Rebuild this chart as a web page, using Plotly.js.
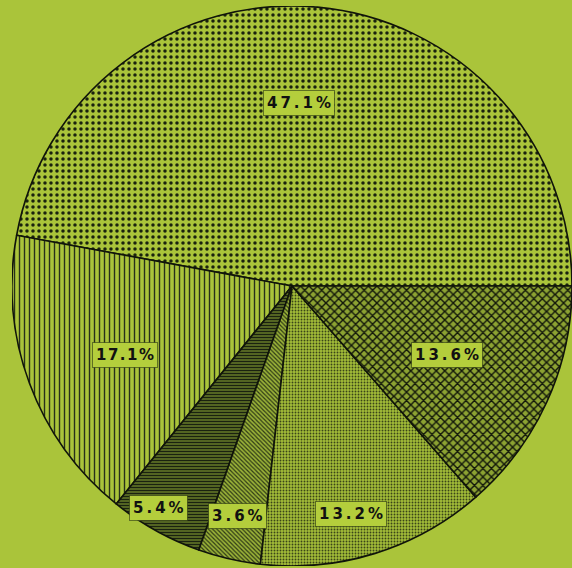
<!DOCTYPE html>
<html>
<head>
<meta charset="utf-8">
<script src="https://cdn.plot.ly/plotly-3.0.1.min.js"></script>
<style>
  html, body { margin: 0; padding: 0; width: 572px; height: 568px; overflow: hidden; background: #aac43a; }
  #chart { position: absolute; left: 12px; top: 6px; }
</style>
</head>
<body>
<div id="chart"></div>
<script>
// ---- data ----
const categories = ["A", "B", "C", "D", "E", "F"];
const shares = [47.1, 17.1, 5.4, 3.6, 13.2, 13.6];
const labelTexts = ["47.1%", "17.1%", "5.4%", "3.6%", "13.2%", "13.6%"];

// ---- styling ----
const bg = "#aac43a";
const patShapes = [".", "|", "-", "\\", ".", "x"];
const patSizes = [6, 5, 3, 3, 3, 6];
const patSolidity = [0.27, 0.28, 0.55, 0.4, 0.3, 0.42];
const patFg = ["#1a220e", "#27301a", "#1a2210", "#2f3a16", "#3a4518", "#12170a"];
const patBg = [bg, bg, "#6e832a", "#9ab238", "#a2bc38", "#8ca232"];
// label placement: radius fraction and angular nudge (deg) around slice midpoint
const labelR = [0.655, 0.645, 0.925, 0.845, 0.84, 0.605];
const labelNudge = [3, 2.2, -1.8, -0.4, -2.7, 0.5];
const labelGap = ["\u2009", "\u200A", "\u2009", "\u2009", "\u2009", "\u2009"];

const R = 280;
const total = shares.reduce((a, b) => a + b, 0);
// start the first slice at 3 o'clock, going counterclockwise
const rot = 90 - shares[0] / total * 360;

const trace = {
  type: "pie",
  labels: categories,
  values: shares,
  sort: false,
  direction: "counterclockwise",
  rotation: rot,
  textinfo: "none",
  hoverinfo: "none",
  showlegend: false,
  marker: {
    colors: patBg,
    line: { color: "#10140a", width: 1.6 },
    pattern: {
      shape: patShapes,
      size: patSizes,
      solidity: patSolidity,
      fgcolor: patFg,
      bgcolor: patBg,
      fillmode: "replace"
    }
  },
  domain: { x: [0, 1], y: [0, 1] }
};

let cum = 0;
const annotations = shares.map((v, i) => {
  const mid = (cum + v / 2) / total * 360 + labelNudge[i];
  cum += v;
  const th = mid * Math.PI / 180;
  return {
    xref: "paper", yref: "paper",
    x: 0.5 + 0.5 * labelR[i] * Math.cos(th),
    y: 0.5 + 0.5 * labelR[i] * Math.sin(th),
    text: labelTexts[i].split("").join(labelGap[i]),
    showarrow: false,
    font: { family: "DejaVu Sans", size: 15, color: "#111", weight: 600 },
    bgcolor: "#b4ce3c",
    bordercolor: "rgba(30,40,15,0.55)",
    borderwidth: 1,
    borderpad: 3,
    xanchor: "center", yanchor: "middle"
  };
});

const layout = {
  width: 2 * R,
  height: 2 * R,
  margin: { l: 0, r: 0, t: 0, b: 0, pad: 0 },
  paper_bgcolor: "rgba(0,0,0,0)",
  plot_bgcolor: "rgba(0,0,0,0)",
  showlegend: false,
  annotations: annotations
};

Plotly.newPlot("chart", [trace], layout, { displayModeBar: false, staticPlot: true });
</script>
</body>
</html>
